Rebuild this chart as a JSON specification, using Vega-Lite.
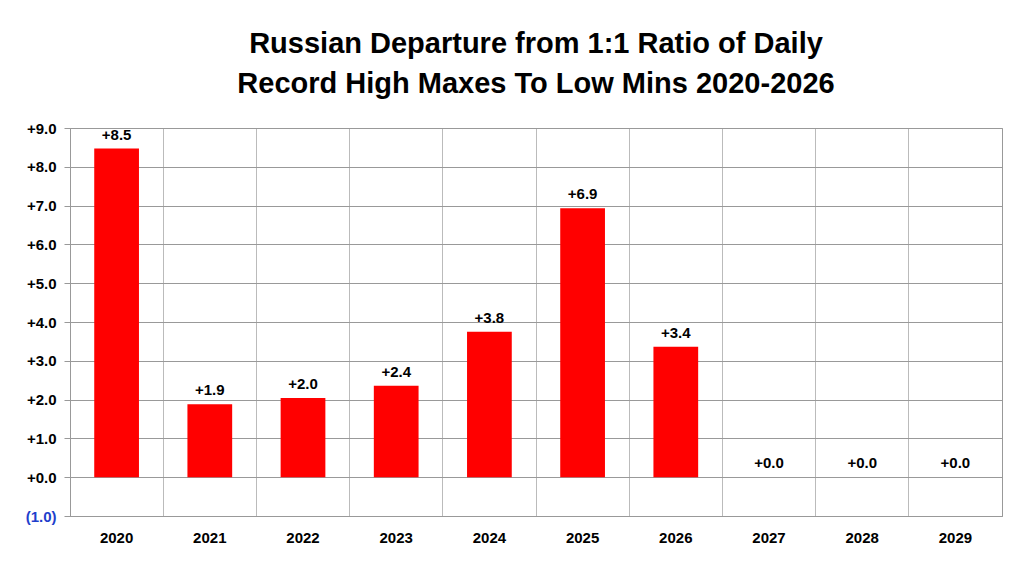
{
  "$schema": "https://vega.github.io/schema/vega-lite/v6.json",
  "autosize": {"type": "fit", "contains": "padding"},
  "width": 1024,
  "height": 567,
  "padding": {"left": 25, "top": 30, "right": 22, "bottom": 22},
  "background": "white",
  "title": {
    "text": ["Russian Departure from 1:1 Ratio of Daily", "Record High Maxes To Low Mins 2020-2026"],
    "font": "Liberation Sans",
    "fontSize": 29,
    "fontWeight": "bold",
    "color": "black",
    "lineHeight": 40,
    "offset": 22
  },
  "data": {
    "values": [
      {"year": "2020", "value": 8.47},
      {"year": "2021", "value": 1.88},
      {"year": "2022", "value": 2.04},
      {"year": "2023", "value": 2.36},
      {"year": "2024", "value": 3.75},
      {"year": "2025", "value": 6.93},
      {"year": "2026", "value": 3.36},
      {"year": "2027", "value": 0},
      {"year": "2028", "value": 0},
      {"year": "2029", "value": 0}
    ]
  },
  "config": {
    "view": {"stroke": "#999999"},
    "font": "Liberation Sans"
  },
  "encoding": {
    "x": {
      "field": "year", "type": "ordinal",
      "scale": {"paddingInner": 0, "paddingOuter": 0},
      "axis": {
        "title": null, "labelAngle": 0, "labelFontSize": 15, "labelFontWeight": "bold",
        "labelColor": "black", "labelPadding": 14, "grid": true, "bandPosition": 0,
        "gridColor": "#bbbbbb", "ticks": false, "domainColor": "#999999"
      }
    },
    "y": {
      "field": "value", "type": "quantitative",
      "scale": {"domain": [-1, 9]},
      "axis": {
        "title": null, "values": [-1, 0, 1, 2, 3, 4, 5, 6, 7, 8, 9],
        "labelExpr": "datum.value < 0 ? '(' + format(-datum.value, '.1f') + ')' : '+' + format(datum.value, '.1f')",
        "labelColor": {"condition": {"test": "datum.value < 0", "value": "#1f3fcc"}, "value": "black"},
        "labelFontSize": 15, "labelFontWeight": "bold", "labelPadding": 8,
        "gridColor": "#999999", "tickColor": "#999999", "domainColor": "#999999", "tickSize": 6
      }
    }
  },
  "layer": [
    {"mark": {"type": "bar", "color": "#ff0000", "width": {"band": 0.48}}},
    {
      "mark": {"type": "text", "dy": -14, "fontSize": 15, "fontWeight": "bold", "color": "black"},
      "encoding": {"text": {"field": "value", "type": "quantitative", "format": "+.1f"}}
    }
  ]
}
